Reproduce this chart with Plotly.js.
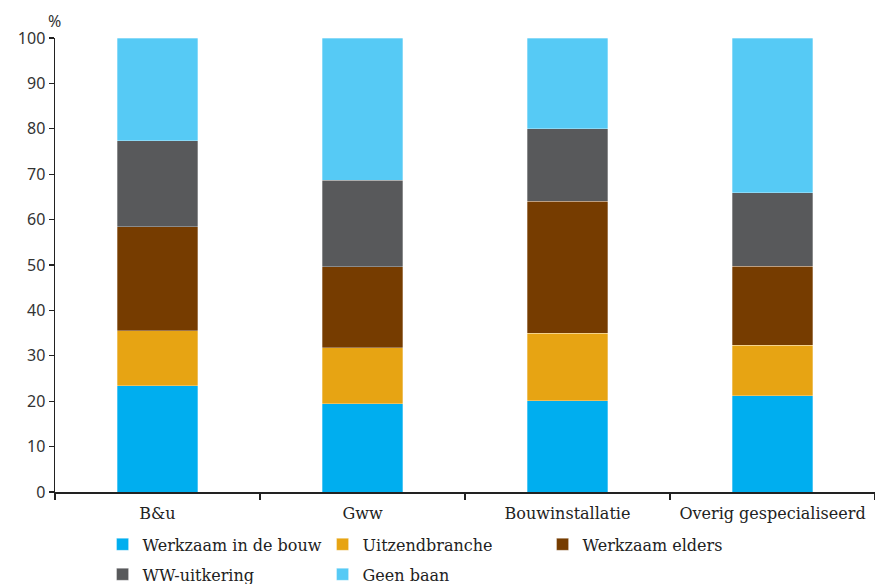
<!DOCTYPE html>
<html>
<head>
<meta charset="utf-8">
<script src="https://cdn.plot.ly/plotly-3.0.1.min.js"></script>
<style>html,body{margin:0;padding:0;background:#fff;}#chart{width:875px;height:584px;}</style>
</head>
<body>
<div id="chart"></div>
<script>
const categories = ["B&u", "Gww", "Bouwinstallatie", "Overig gespecialiseerd"];
const werkzaamBouw = [23.4, 19.4, 20.1, 21.2];
const uitzendbranche = [12.1, 12.4, 14.9, 11.1];
const werkzaamElders = [22.9, 17.8, 29.0, 17.4];
const wwUitkering = [19.0, 19.1, 16.0, 16.2];
const geenBaan = [22.6, 31.3, 20.0, 34.1];
const seriesNames = ["Werkzaam in de bouw", "Uitzendbranche", "Werkzaam elders", "WW-uitkering", "Geen baan"];
const colors = ["#00AEEF", "#E7A413", "#763C00", "#58595B", "#56CAF5"];
const yTicks = [0, 10, 20, 30, 40, 50, 60, 70, 80, 90, 100];

const seriesValues = [werkzaamBouw, uitzendbranche, werkzaamElders, wwUitkering, geenBaan];
const data = seriesValues.map((vals, i) => ({
  type: "bar",
  name: seriesNames[i],
  x: categories,
  y: vals,
  legend: i < 3 ? "legend" : "legend2",
  marker: {color: colors[i], line: {color: "rgba(255,255,255,0.5)", width: 0.6}},
  hoverinfo: "name+y"
}));

const legendBase = {
  orientation: "h", x: 0.058, xanchor: "left", yanchor: "top",
  entrywidth: 175, entrywidthmode: "pixels", traceorder: "normal",
  font: {family: "DejaVu Serif", size: 16, color: "#222"},
  itemwidth: 30
};

const layout = {
  width: 875, height: 584,
  margin: {l: 55, r: 0, t: 38, b: 92, autoexpand: false},
  barmode: "stack",
  bargap: 0.605,
  paper_bgcolor: "#fff", plot_bgcolor: "#fff",
  showlegend: true,
  legend: Object.assign({}, legendBase, {y: -0.078}),
  legend2: Object.assign({}, legendBase, {y: -0.144}),
  xaxis: {
    type: "category",
    showline: true, linecolor: "#222", linewidth: 1.5,
    ticks: "outside", ticklen: 6, tickcolor: "#222", tickwidth: 1.2,
    tickson: "boundaries", tickangle: 0, ticklabelstandoff: 6,
    showgrid: false, zeroline: false,
    tickfont: {family: "DejaVu Serif", size: 16, color: "#222"}
  },
  yaxis: {
    range: [0, 100], tickvals: yTicks,
    showline: true, linecolor: "#222", linewidth: 1.5,
    ticks: "outside", ticklen: 5, tickcolor: "#222", tickwidth: 1.2,
    showgrid: false, zeroline: false,
    tickfont: {family: "Noto Sans", size: 16, color: "#333"}
  },
  annotations: [{
    text: "%", xref: "paper", yref: "paper", x: 0, y: 1, xanchor: "center", yanchor: "bottom",
    xshift: -1, yshift: 4, showarrow: false,
    font: {family: "Noto Sans", size: 16, color: "#333"}
  }]
};

Plotly.newPlot("chart", data, layout, {displayModeBar: false, staticPlot: true});
</script>
</body>
</html>
